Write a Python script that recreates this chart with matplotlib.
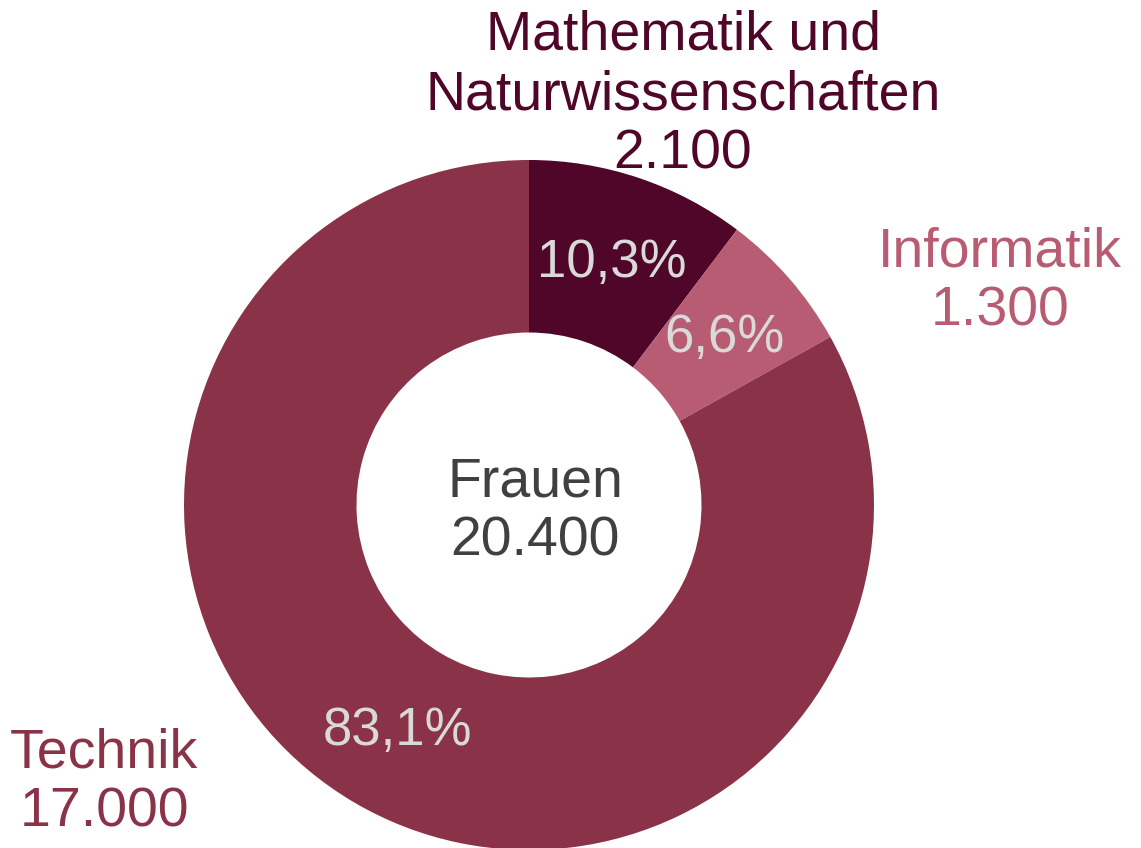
import numpy as np
import matplotlib.pyplot as plt

# Frauen in MINT-Fächern (Anzahl und Anteil)
categories = ["Mathematik und\nNaturwissenschaften", "Informatik", "Technik"]
counts = ["2.100", "1.300", "17.000"]
shares = [10.3, 6.6, 83.1]
total_label = "Frauen\n20.400"

colors = ["#4F0628", "#B85C74", "#8A3348"]

plt.rcParams["font.family"] = ["Liberation Sans", "DejaVu Sans"]

W, H = 1141, 848
fig = plt.figure(figsize=(W / 100, H / 100), dpi=100)
ax = fig.add_axes([0, 0, 1, 1])

cx, cy, r = 529, H - 505, 345

wedges, _ = ax.pie(
    shares,
    colors=colors,
    startangle=90,
    counterclock=False,
    center=(cx, cy),
    radius=r,
    wedgeprops=dict(width=r * 0.5, linewidth=0),
)

# Prozentwerte im Ring
for w, s in zip(wedges, shares):
    ang = np.deg2rad((w.theta1 + w.theta2) / 2)
    ax.text(cx + 0.75 * r * np.cos(ang), cy + 0.75 * r * np.sin(ang) - 3,
            f"{s:.1f}".replace(".", ",") + "%",
            ha="center", va="center", fontsize=38, color="#D9D9D9")

# Mitte
ax.text(cx + 6, H - 512, total_label, ha="center", va="center",
        fontsize=40, color="#404040", linespacing=1.18)

# Kategorien-Beschriftungen
label_pos = [(683, H - 95), (1000, H - 282), (104, H - 783)]
for (x, y), cat, n, c in zip(label_pos, categories, counts, colors):
    ax.text(x, y, f"{cat}\n{n}", ha="center", va="center", fontsize=40,
            color=c, linespacing=1.18, multialignment="center")

ax.set_xlim(0, W)
ax.set_ylim(0, H)
ax.axis("off")

fig.savefig("out.png", dpi=100)
